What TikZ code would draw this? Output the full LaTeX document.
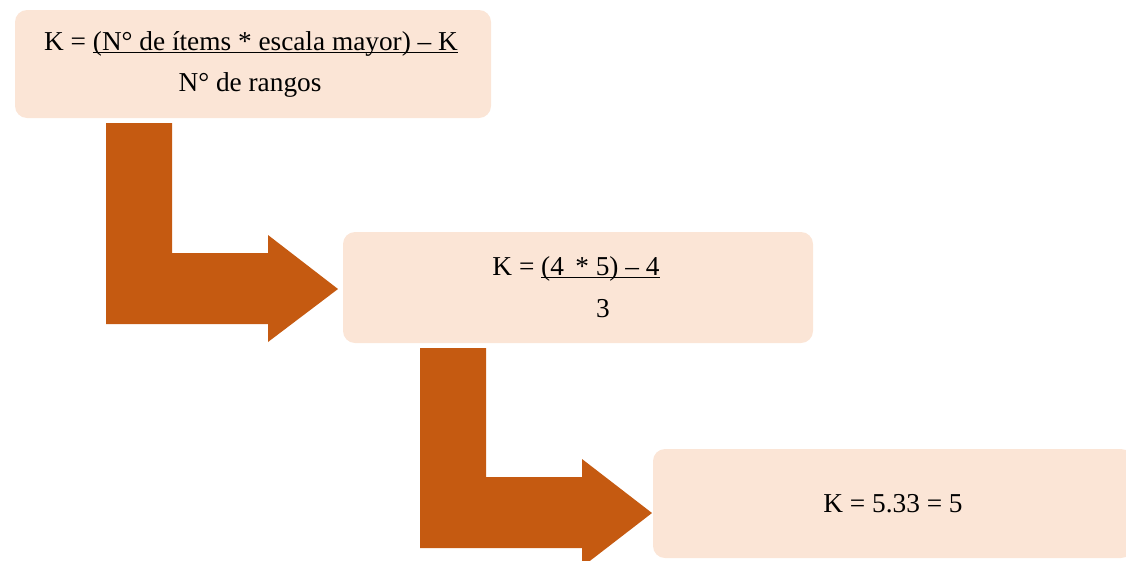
\documentclass[tikz,border=0pt]{standalone}
\usepackage{fontspec}
\setmainfont{Liberation Serif}
\definecolor{boxfill}{HTML}{FBE5D6}
\definecolor{arrowfill}{HTML}{C55A11}
\newlength\myulw
\newcommand\myul[1]{\settowidth\myulw{#1}\rlap{\rule[-3pt]{\myulw}{1.4pt}}#1}
\begin{document}
\begin{tikzpicture}[x=1pt,y=-1pt,
  box/.style={fill=boxfill, draw=none, rounded corners=12pt, inner sep=0pt},
  lbl/.style={anchor=base, inner sep=0pt, font=\fontsize{27.3}{32}\selectfont},
  bentarrow/.style={fill=arrowfill, draw=none}]
\useasboundingbox (0,0) rectangle (1126,560);
\clip (0,0) rectangle (1126,560);
% boxes
\node[box, minimum width=476pt, minimum height=108pt] (b1) at (253,64) {};
\node[box, minimum width=470pt, minimum height=111pt] (b2) at (578,287.5) {};
\node[box, minimum width=480pt, minimum height=109pt] (b3) at (893,503.5) {};
% bent arrows
\fill[bentarrow] (106,123) -- (172,123) -- (172,253) -- (268,253) -- (268,235)
  -- (338,289) -- (268,342) -- (268,324) -- (106,324) -- cycle;
\fill[bentarrow] (420,348) -- (486,348) -- (486,477) -- (582,477) -- (582,459)
  -- (652,513) -- (582,567) -- (582,548) -- (420,548) -- cycle;
% texts
\node[lbl] (t1a) at (251,50) {K = \myul{(N° de ítems * escala mayor) – K}};
\node[lbl] (t1b) at (250,91) {N° de rangos};
\node[lbl] (t2a) at (576,275) {K = \myul{(4 \,* 5) – 4}};
\node[lbl] (t2b) at (603,317) {3};
\node[lbl] (t3) at (893,512) {K = 5.33 = 5};
\end{tikzpicture}
\end{document}
